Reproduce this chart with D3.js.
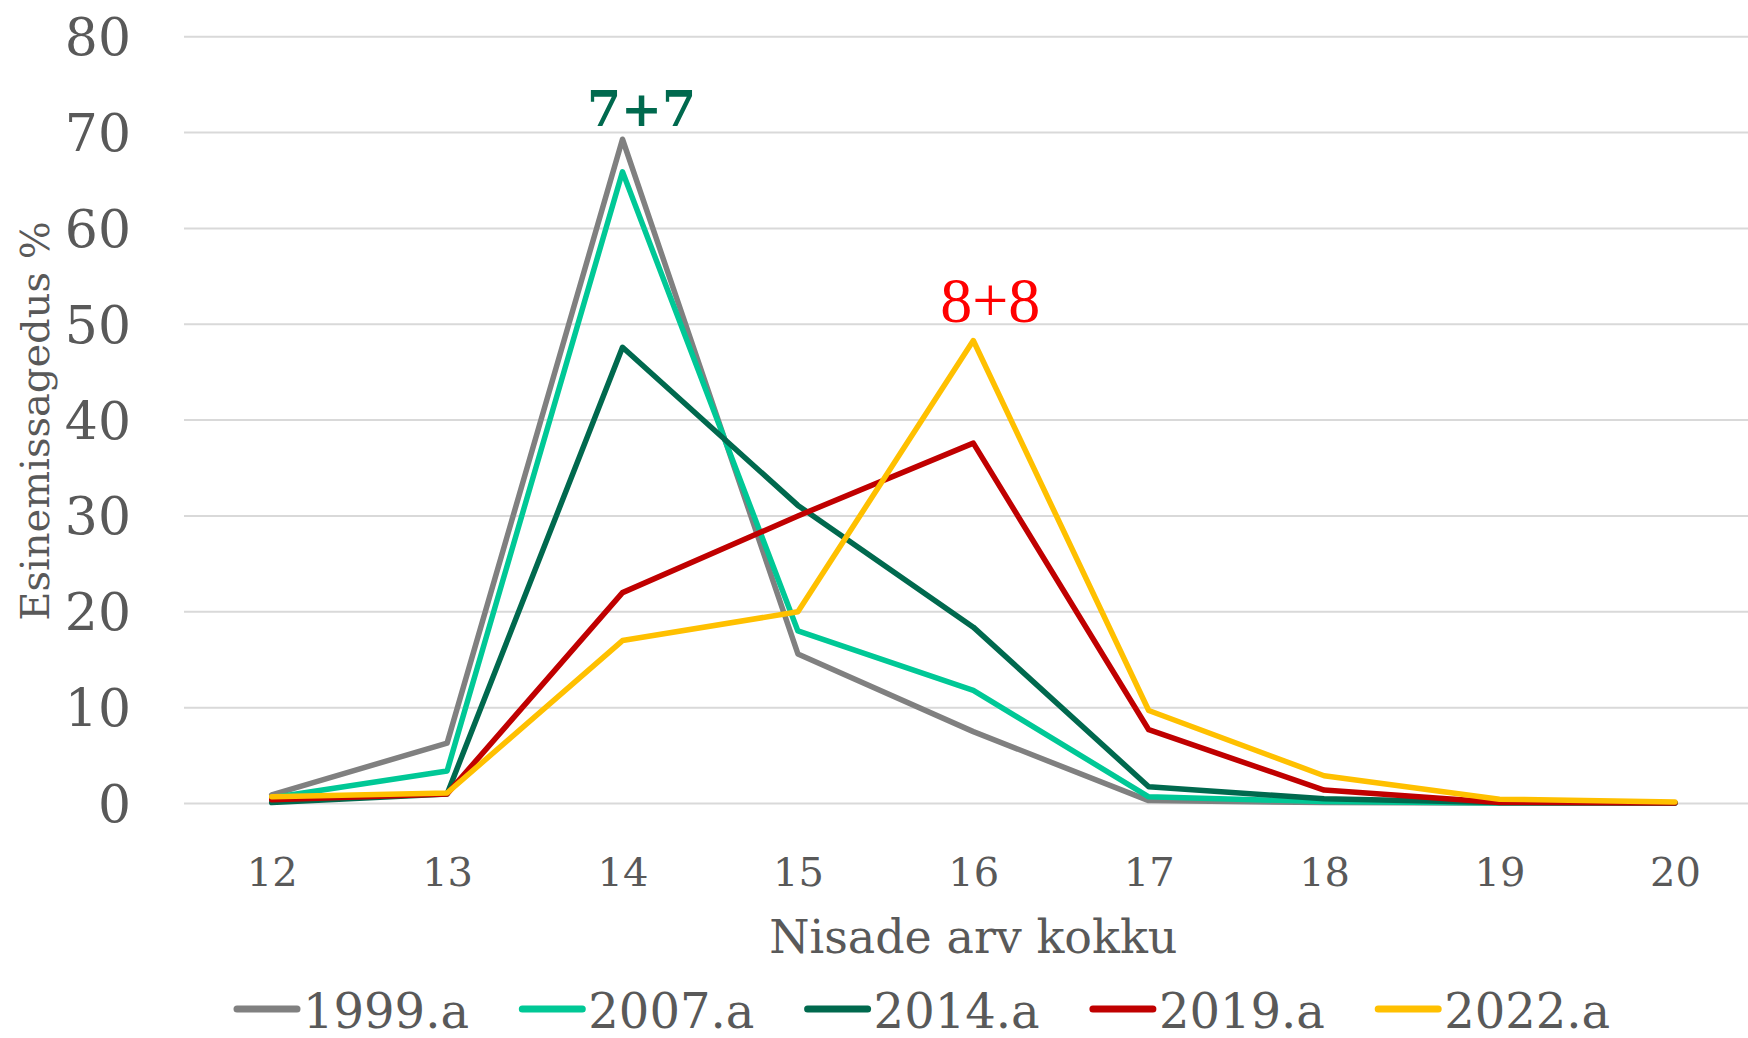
<!DOCTYPE html>
<html>
<head>
<meta charset="utf-8">
<script src="https://cdn.jsdelivr.net/npm/d3@7"></script>
<style>
  body { margin: 0; background: #fff; }
  svg { display: block; }
</style>
</head>
<body>
<div id="chart"></div>
<script>
const width = 1748
const height = 1038

// nisade arv kokku
const categories = [12, 13, 14, 15, 16, 17, 18, 19, 20]
const yTicks = [0, 10, 20, 30, 40, 50, 60, 70, 80]

// esinemissagedus % per aasta
const years = ['1999.a', '2007.a', '2014.a', '2019.a', '2022.a']
const v1999 = [0.9, 6.3, 69.3, 15.6, 7.5, 0.3, 0.1, 0.05, 0.05]
const v2007 = [0.6, 3.4, 65.9, 18.0, 11.8, 0.7, 0.2, 0.05, 0.05]
const v2014 = [0.1, 1.0, 47.6, 31.1, 18.4, 1.75, 0.5, 0.1, 0.05]
const v2019 = [0.4, 1.0, 22.0, 30.0, 37.6, 7.7, 1.4, 0.1, 0.05]
const v2022 = [0.7, 1.1, 17.0, 20.0, 48.3, 9.7, 2.9, 0.45, 0.15]
const colors = ['#808080', '#00c896', '#00694e', '#c00000', '#ffc000']

const series = [v1999, v2007, v2014, v2019, v2022].map(function (vals, i) {
  return { name: years[i], color: colors[i], values: vals }
})

const font = "'DejaVu Serif', serif"
const textColor = '#595959'

const plotLeft = 184
const plotRight = 1762.6
const plotTop = 36.7
const plotBottom = 803.5

const x = d3.scalePoint().domain(categories).range([plotLeft, plotRight]).padding(0.5)
const y = d3.scaleLinear().domain([0, 80]).range([plotBottom, plotTop])

const svg = d3.select('#chart')
  .append('svg')
  .attr('width', width)
  .attr('height', height)

// gridlines
svg.append('g')
  .selectAll('line')
  .data(yTicks)
  .enter().append('line')
  .attr('x1', plotLeft)
  .attr('x2', width)
  .attr('y1', function (d) { return y(d) })
  .attr('y2', function (d) { return y(d) })
  .attr('stroke', '#d9d9d9')
  .attr('stroke-width', 2)

// y axis
const yAxis = svg.append('g')
  .attr('transform', 'translate(' + plotLeft + ',0)')
  .call(d3.axisLeft(y).tickValues(yTicks).tickSize(0).tickPadding(53))
yAxis.select('.domain').remove()
yAxis.selectAll('text')
  .attr('font-family', font)
  .attr('font-size', 52)
  .attr('fill', textColor)
  .attr('dy', 18)

// x axis
const xAxis = svg.append('g')
  .attr('transform', 'translate(0,' + plotBottom + ')')
  .call(d3.axisBottom(x).tickSize(0))
xAxis.select('.domain').remove()
xAxis.selectAll('text')
  .attr('font-family', font)
  .attr('font-size', 40)
  .attr('fill', textColor)
  .attr('y', 82)
  .attr('dy', null)

// axis titles
svg.append('text')
  .attr('x', (plotLeft + plotRight) / 2)
  .attr('y', 953)
  .attr('text-anchor', 'middle')
  .attr('font-family', font)
  .attr('font-size', 46)
  .attr('fill', textColor)
  .text('Nisade arv kokku')

svg.append('text')
  .attr('transform', 'translate(49,421) rotate(-90)')
  .attr('text-anchor', 'middle')
  .attr('font-family', font)
  .attr('font-size', 40)
  .attr('fill', textColor)
  .text('Esinemissagedus %')

// lines
const line = d3.line()
  .x(function (d, i) { return x(categories[i]) })
  .y(function (d) { return y(d) })

svg.append('g')
  .selectAll('path')
  .data(series)
  .enter().append('path')
  .attr('d', function (d) { return line(d.values) })
  .attr('fill', 'none')
  .attr('stroke', function (d) { return d.color })
  .attr('stroke-width', 5.5)
  .attr('stroke-linejoin', 'round')
  .attr('stroke-linecap', 'round')

// annotations
svg.append('text')
  .attr('x', x(14) + 19)
  .attr('y', 126)
  .attr('text-anchor', 'middle')
  .attr('font-family', font)
  .attr('font-weight', 'bold')
  .attr('font-size', 49)
  .attr('fill', '#00694e')
  .text('7+7')

svg.append('text')
  .attr('x', x(16) + 17)
  .attr('y', 322)
  .attr('text-anchor', 'middle')
  .attr('font-family', "'Liberation Serif', serif")
  .attr('font-size', 64)
  .attr('fill', '#ff0000')
  .text('8+8')

// legend
const legend = svg.append('g')
  .selectAll('g')
  .data(series)
  .enter().append('g')
  .attr('transform', function (d, i) { return 'translate(' + (237 + i * 285.3) + ',1009)' })

legend.append('line')
  .attr('x1', 0)
  .attr('x2', 60)
  .attr('stroke', function (d) { return d.color })
  .attr('stroke-width', 7)
  .attr('stroke-linecap', 'round')

legend.append('text')
  .attr('x', 66)
  .attr('y', 19)
  .attr('font-family', font)
  .attr('font-size', 48)
  .attr('fill', textColor)
  .text(function (d) { return d.name })
</script>
</body>
</html>
